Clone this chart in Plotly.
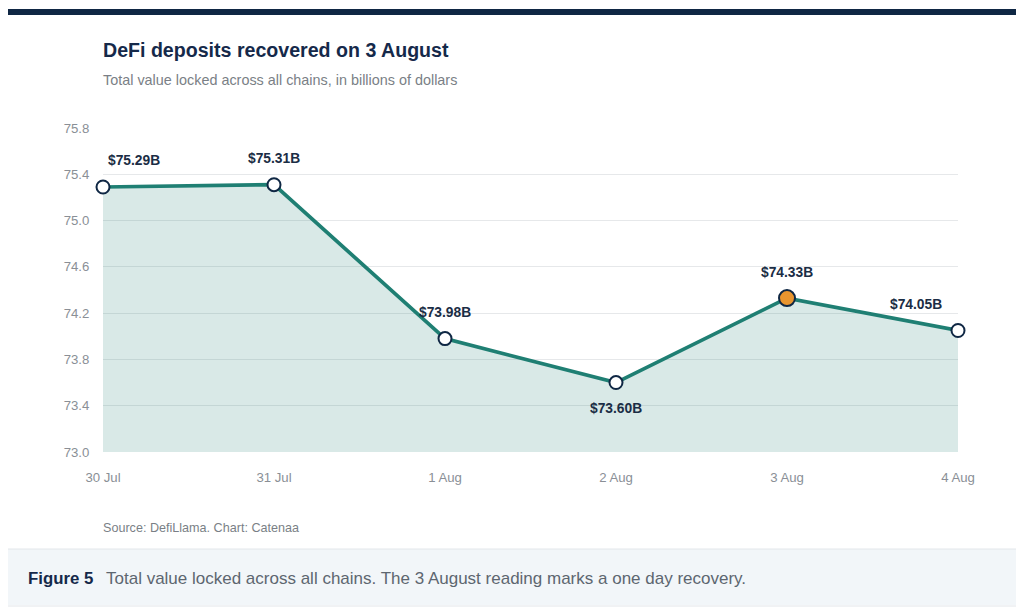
import plotly.graph_objects as go

# data
days = ["30 Jul", "31 Jul", "1 Aug", "2 Aug", "3 Aug", "4 Aug"]
tvl = [75.29, 75.31, 73.98, 73.60, 74.33, 74.05]
labels = ["$75.29B", "$75.31B", "$73.98B", "$73.60B", "$74.33B", "$74.05B"]
y_ticks = [73.0, 73.4, 73.8, 74.2, 74.6, 75.0, 75.4, 75.8]
highlight = "3 Aug"

# the page body adds 8px margin, so work in page pixels and shift back
OFF = 8
W, H = 1024 - OFF, 614 - OFF
L, R, T, B = 103 - OFF, 958 - OFF, 128 - OFF, 452 - OFF  # plot area


def px(x):
    return (x - OFF - L) / (R - L)


def py(y):
    return (B - (y - OFF)) / (B - T)


teal = "#1f7f73"
navy = "#0f2744"

fig = go.Figure()

fig.add_trace(go.Scatter(
    x=list(range(len(days))), y=tvl, mode="lines",
    line=dict(color=teal, width=3.7),
    fill="tozeroy", fillcolor="rgba(31,127,115,0.17)",
    hoverinfo="skip", showlegend=False, cliponaxis=False,
))

normal = [i for i, d in enumerate(days) if d != highlight]
hi = [i for i, d in enumerate(days) if d == highlight]
fig.add_trace(go.Scatter(
    x=normal, y=[tvl[i] for i in normal], mode="markers", cliponaxis=False,
    marker=dict(size=13, color="white", line=dict(color=navy, width=2)),
    showlegend=False,
))
fig.add_trace(go.Scatter(
    x=hi, y=[tvl[i] for i in hi], mode="markers", cliponaxis=False,
    marker=dict(size=16, color="#e8952f", line=dict(color=navy, width=2)),
    showlegend=False,
))

# value labels
offsets = {"30 Jul": (31, -27), "31 Jul": (0, -26), "1 Aug": (0, -26),
           "2 Aug": (0, 26), "3 Aug": (0, -26), "4 Aug": (-42, -26)}
for i, d in enumerate(days):
    dx, dy = offsets[d]
    fig.add_annotation(x=i, y=tvl[i], text="<b>" + labels[i] + "</b>",
                       showarrow=False, xshift=dx, yshift=-dy,
                       font=dict(size=13.8, color="#1b2d45"))

shapes = [
    # card
    dict(type="rect", xref="paper", yref="paper",
         x0=px(7), x1=px(1018), y0=py(606), y1=py(10),
         fillcolor="white", line=dict(color="#e2e5e9", width=1), layer="below"),
    # top bar
    dict(type="rect", xref="paper", yref="paper",
         x0=px(7), x1=px(1018), y0=py(15), y1=py(9),
         fillcolor="#0f2744", line=dict(width=0), layer="below"),
    # caption panel
    dict(type="rect", xref="paper", yref="paper",
         x0=px(8), x1=px(1017), y0=py(605), y1=py(549),
         fillcolor="#f2f6f9", line=dict(width=0), layer="below"),
    dict(type="line", xref="paper", yref="paper",
         x0=px(8), x1=px(1017), y0=py(549), y1=py(549),
         line=dict(color="#e2e6ea", width=1), layer="below"),
]

texts = [
    (101, 50, "<b>DeFi deposits recovered on 3 August</b>", 19.6, "#15294a"),
    (101, 80, "Total value locked across all chains, in billions of dollars", 14.4, "#7a7f86"),
    (101, 528, "Source: DefiLlama. Chart: Catenaa", 12.6, "#7a7f86"),
    (26, 578, "<b>Figure 5</b>", 16.8, "#15294a"),
    (104, 578, "Total value locked across all chains. The 3 August reading marks a one day recovery.", 17, "#5d6670"),
]
for x, y, t, s, c in texts:
    fig.add_annotation(xref="paper", yref="paper", x=px(x), y=py(y), text=t,
                       showarrow=False, xanchor="left", yanchor="middle",
                       font=dict(size=s, color=c))

fig.update_layout(
    width=W, height=H,
    margin=dict(l=L, r=W - R, t=T, b=H - B),
    paper_bgcolor="white", plot_bgcolor="rgba(0,0,0,0)",
    font=dict(family="Liberation Sans, Arial, sans-serif"),
    shapes=shapes,
    xaxis=dict(range=[0, len(days) - 1], tickvals=list(range(len(days))),
               ticktext=days, showgrid=False, zeroline=False, showline=False,
               tickfont=dict(size=13.2, color="#8a8f96"),
               ticks="outside", ticklen=13, tickcolor="rgba(0,0,0,0)",
               fixedrange=True),
    yaxis=dict(range=[73.0, 75.8], tickvals=y_ticks,
               ticktext=[f"{v:.1f}" for v in y_ticks],
               showgrid=True, gridcolor="#e6e8ea", gridwidth=1, zeroline=False,
               showline=False, tickfont=dict(size=13.2, color="#8a8f96"),
               ticks="outside", ticklen=10, tickcolor="rgba(0,0,0,0)",
               fixedrange=True),
)

fig.write_html("out.html")
